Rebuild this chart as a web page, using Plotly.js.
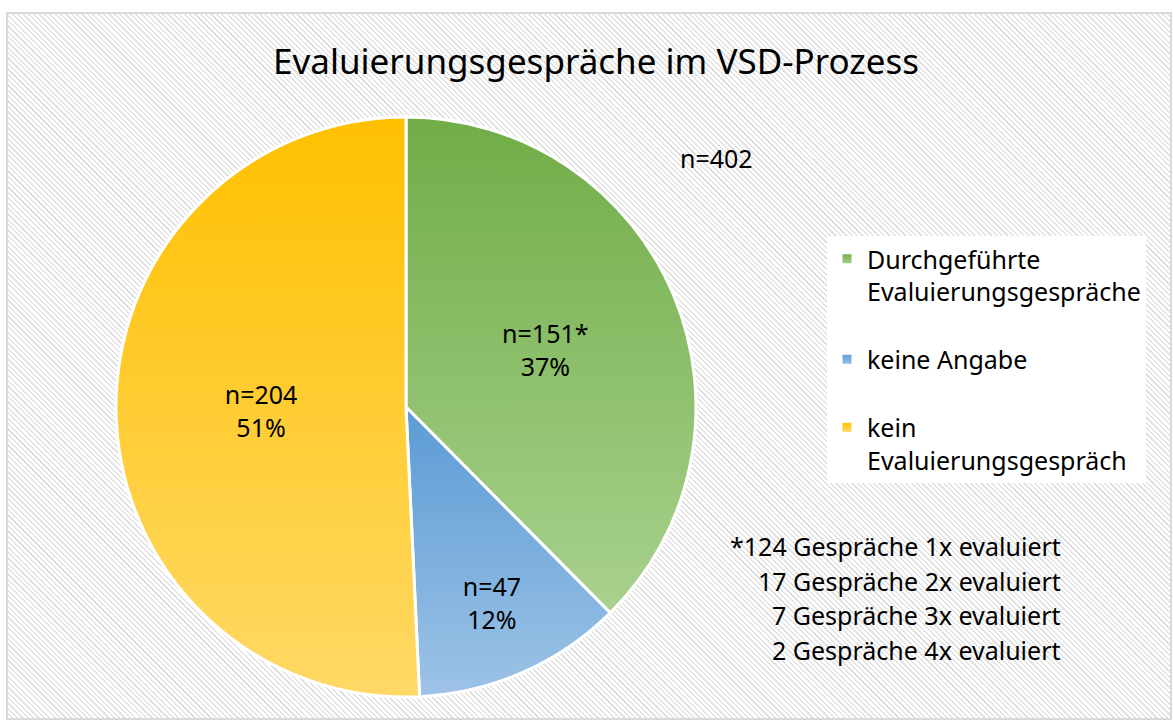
<!DOCTYPE html>
<html>
<head>
<meta charset="utf-8">
<script src="https://cdn.plot.ly/plotly-3.0.1.min.js"></script>
<style>
  html, body { margin: 0; padding: 0; background: #ffffff; }
  #wrap { position: relative; width: 1173px; height: 722px; overflow: hidden; }
  #bg {
    position: absolute; left: 6px; top: 12px; width: 1162px; height: 704px;
    border: 2px solid #D9D9D9;
    background: repeating-linear-gradient(45deg, #ffffff 0px, #ffffff 2.2px, #E3E3E3 2.2px, #E3E3E3 3.8px);
  }
  #chart { position: absolute; left: 0; top: 0; width: 1173px; height: 722px; }
</style>
</head>
<body>
<div id="wrap">
  <div id="bg"></div>
  <div id="chart"></div>
</div>
<script>
// ---- data ----
const categories = ["Durchgeführte<br>Evaluierungsgespräche<br> ", "keine Angabe<br> ", "kein<br>Evaluierungsgespräch"];
const counts = [151, 47, 204];
const countLabels = ["n=151*", "n=47", "n=204"];
const percentLabels = ["37%", "12%", "51%"];
const totalLabel = "n=402";
const footnoteLines = [
  "*124 Gespräche 1x evaluiert",
  "17 Gespräche 2x evaluiert",
  "7 Gespräche 3x evaluiert",
  "2 Gespräche 4x evaluiert"
];
const titleText = "Evaluierungsgespräche im VSD-Prozess";

// ---- styles ----
const FONT = "'Noto Sans', 'Open Sans', sans-serif";
const solidColors = ["#8DBF6B", "#7CAFDE", "#FFCD33"];
const gradTop = ["#70AD47", "#5B9BD5", "#FFC000"];
const gradBottom = ["#A9D18E", "#9DC3E6", "#FFD966"];

const W = 1173, H = 722;

const trace = {
  type: "pie",
  values: counts,
  labels: categories,
  customdata: countLabels.map((c, i) => [c, percentLabels[i]]),
  texttemplate: "%{customdata[0]}<br>%{customdata[1]}",
  textposition: "inside",
  insidetextorientation: "horizontal",
  textfont: { family: FONT, size: 25, color: "#000000" },
  sort: false,
  direction: "clockwise",
  rotation: 0,
  marker: { colors: solidColors, line: { color: "#ffffff", width: 3 } },
  hoverinfo: "none",
  domain: { x: [116 / W, 696 / W], y: [1 - 697 / H, 1 - 117 / H] }
};

const annotations = [
  {
    text: totalLabel, xref: "paper", yref: "paper",
    x: 716 / W, y: 1 - 158 / H, xanchor: "center", yanchor: "middle",
    showarrow: false, font: { family: FONT, size: 25, color: "#000000" }
  }
];
footnoteLines.forEach((line, i) => {
  annotations.push({
    text: line, xref: "paper", yref: "paper",
    x: 1063 / W, y: 1 - (546 + i * 34.7) / H, xanchor: "right", yanchor: "middle",
    showarrow: false, font: { family: FONT, size: 25, color: "#000000" }
  });
});

const layout = {
  width: W, height: H,
  margin: { l: 0, r: 0, t: 0, b: 0 },
  paper_bgcolor: "rgba(0,0,0,0)",
  plot_bgcolor: "rgba(0,0,0,0)",
  title: {
    text: titleText,
    font: { family: FONT, size: 35, color: "#000000" },
    x: 596 / W, xanchor: "center", y: 1 - 62 / H, yanchor: "middle"
  },
  showlegend: true,
  legend: {
    x: 827 / W, y: 1 - 236 / H, xanchor: "left", yanchor: "top",
    bgcolor: "#ffffff", borderwidth: 0,
    font: { family: FONT, size: 25, color: "#000000" },
    valign: "top", itemclick: false, itemdoubleclick: false
  },
  annotations: annotations
};

Plotly.newPlot("chart", [trace], layout, { displayModeBar: false, staticPlot: true }).then(gd => {
  // apply vertical gradients like the original Excel chart
  const svg = gd.querySelector("svg.main-svg");
  const ns = "http://www.w3.org/2000/svg";
  let defs = svg.querySelector("defs");
  if (!defs) { defs = document.createElementNS(ns, "defs"); svg.insertBefore(defs, svg.firstChild); }
  gradTop.forEach((c, i) => {
    const g = document.createElementNS(ns, "linearGradient");
    g.setAttribute("id", "sliceGrad" + i);
    g.setAttribute("x1", "0"); g.setAttribute("y1", "0");
    g.setAttribute("x2", "0"); g.setAttribute("y2", "1");
    const s1 = document.createElementNS(ns, "stop");
    s1.setAttribute("offset", "0"); s1.setAttribute("stop-color", c);
    const s2 = document.createElementNS(ns, "stop");
    s2.setAttribute("offset", "1"); s2.setAttribute("stop-color", gradBottom[i]);
    g.appendChild(s1); g.appendChild(s2);
    defs.appendChild(g);
  });
  gd.querySelectorAll("g.slice path.surface").forEach((p, i) => {
    p.style.fill = "url(#sliceGrad" + i + ")";
  });
  gd.querySelectorAll("g.legend g.traces path.legendpie").forEach((p, i) => {
    p.style.fill = "url(#sliceGrad" + i + ")";
  });
});
</script>
</body>
</html>
